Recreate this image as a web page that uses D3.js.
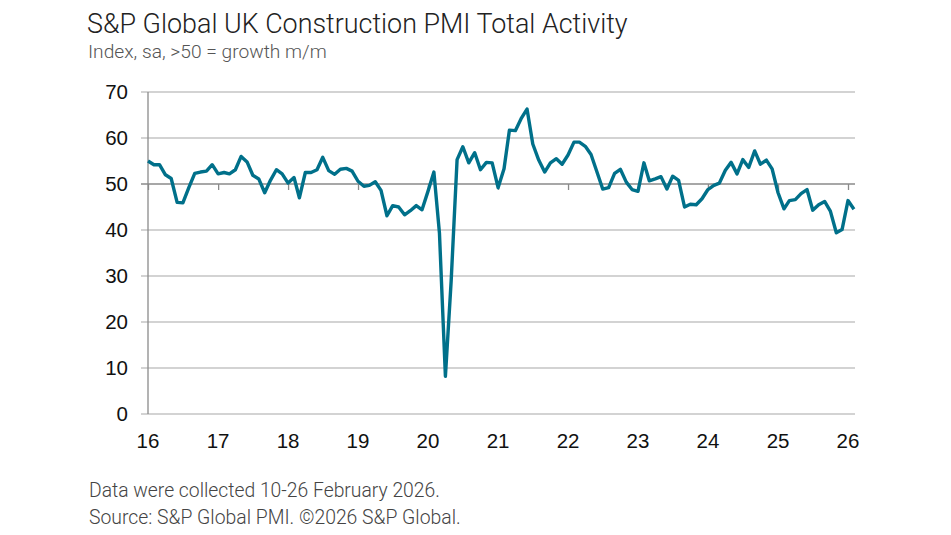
<!DOCTYPE html>
<html><head><meta charset="utf-8">
<script src="https://cdn.jsdelivr.net/npm/d3@7/dist/d3.min.js"></script>
<style>body{margin:0;background:#fff;}svg{display:block;}</style>
</head><body>
<svg id="c" width="951" height="535"></svg>
<script>
// Data: monthly, Jan 2016 - Feb 2026
const startYear = 2016;
const values2016 = [55.0,54.2,54.2,52.0,51.2,46.0,45.9,49.2,52.3,52.6,52.8,54.2];
const values2017 = [52.2,52.5,52.2,53.1,56.0,54.8,51.9,51.1,48.1,50.8,53.1,52.2];
const values2018 = [50.2,51.4,47.0,52.5,52.5,53.1,55.8,52.9,52.1,53.2,53.4,52.8];
const values2019 = [50.6,49.5,49.7,50.5,48.6,43.1,45.3,45.0,43.3,44.2,45.3,44.4];
const values2020 = [48.4,52.6,39.3,8.2,28.9,55.3,58.1,54.6,56.8,53.1,54.7,54.6];
const values2021 = [49.2,53.3,61.7,61.6,64.2,66.3,58.7,55.2,52.6,54.6,55.5,54.3];
const values2022 = [56.3,59.1,59.1,58.2,56.4,52.6,48.9,49.2,52.3,53.2,50.4,48.8];
const values2023 = [48.4,54.6,50.7,51.1,51.6,48.9,51.7,50.8,45.0,45.6,45.5,46.8];
const values2024 = [48.8,49.7,50.2,53.0,54.7,52.2,55.3,53.6,57.2,54.3,55.2,53.3];
const values2025 = [48.1,44.6,46.4,46.6,47.9,48.8,44.3,45.5,46.2,44.1,39.4,40.1];
const values2026 = [46.4,44.5];
const yTicks = [0,10,20,30,40,50,60,70];
const xTickYears = [2016,2017,2018,2019,2020,2021,2022,2023,2024,2025,2026];
const xTickLabels = ["16","17","18","19","20","21","22","23","24","25","26"];

const allValues = [].concat(values2016,values2017,values2018,values2019,values2020,
  values2021,values2022,values2023,values2024,values2025,values2026);
const data = allValues.map((v,i)=>({date:new Date(startYear + Math.floor(i/12), i%12, 1), v}));

const svg = d3.select("#c");
const pLeft = 148, pRight = 848, pTop = 92, pBottom = 414, gridRight = 855;

const x = d3.scaleTime().domain([new Date(2016,0,1), new Date(2026,0,1)]).range([pLeft,pRight]);
const y = d3.scaleLinear().domain([0,70]).range([pBottom,pTop]);

function fit(sel, target){
  const n = sel.node();
  const len = n.getComputedTextLength();
  const fs = parseFloat(sel.attr("font-size"));
  if (len > 0) sel.attr("font-size", (fs*target/len).toFixed(2));
}

// gridlines
svg.append("g").selectAll("line").data(yTicks).join("line")
  .attr("x1", pLeft-7).attr("x2", gridRight)
  .attr("y1", d=>y(d)).attr("y2", d=>y(d))
  .attr("stroke", d=> d===50 ? "#8a8a8a" : "#c4c4c4")
  .attr("stroke-width", 1.3);

// y axis line
svg.append("line").attr("x1",pLeft).attr("x2",pLeft).attr("y1",pTop).attr("y2",pBottom)
  .attr("stroke","#8a8a8a").attr("stroke-width",1.3);

// y tick labels
svg.append("g").selectAll("text").data(yTicks).join("text")
  .attr("x", 128).attr("y", d=>y(d)+7.3)
  .attr("text-anchor","end")
  .attr("font-family","'Liberation Sans', Arial, sans-serif")
  .attr("font-size", 20.5).attr("fill","#111")
  .text(d=>d);

// x axis at 50 with ticks
const xAxis = d3.axisBottom(x)
  .tickValues(xTickYears.map(yy=>new Date(yy,0,1)))
  .tickSize(6).tickFormat("");
const gx = svg.append("g").attr("transform",`translate(0,${y(50)})`).call(xAxis);
gx.select(".domain").remove();
gx.selectAll(".tick line").attr("stroke","#8a8a8a").attr("stroke-width",1.3);

// x tick labels at bottom
svg.append("g").selectAll("text").data(xTickYears).join("text")
  .attr("x", d=>x(new Date(d,0,1)))
  .attr("y", 448)
  .attr("text-anchor","middle")
  .attr("font-family","'Liberation Sans', Arial, sans-serif")
  .attr("font-size", 20.5).attr("fill","#111")
  .text((d,i)=>xTickLabels[i]);

// line
const line = d3.line().x(d=>x(d.date)).y(d=>y(d.v));
svg.append("path").datum(data)
  .attr("d", line).attr("fill","none")
  .attr("stroke","#00708a").attr("stroke-width",3.4)
  .attr("stroke-linejoin","round").attr("stroke-linecap","butt");

// titles
const tf = "Roboto, 'Noto Sans', sans-serif";
const t1 = svg.append("text").attr("x",87).attr("y",33)
  .attr("font-family",tf).attr("font-weight",300).attr("font-size",25).attr("fill","#222")
  .text("S&P Global UK Construction PMI Total Activity");
fit(t1, 541);
const t2 = svg.append("text").attr("x",88).attr("y",58)
  .attr("font-family",tf).attr("font-weight",300).attr("font-size",17).attr("fill","#555")
  .text("Index, sa, >50 = growth m/m");
fit(t2, 239);
const f1 = svg.append("text").attr("x",89).attr("y",497)
  .attr("font-family",tf).attr("font-weight",300).attr("font-size",16).attr("fill","#444")
  .text("Data were collected 10-26 February 2026.");
fit(f1, 351);
const f2 = svg.append("text").attr("x",89).attr("y",524)
  .attr("font-family",tf).attr("font-weight",300).attr("font-size",16).attr("fill","#444")
  .text("Source: S&P Global PMI. ©2026 S&P Global.");
fit(f2, 372);
</script>
</body></html>
